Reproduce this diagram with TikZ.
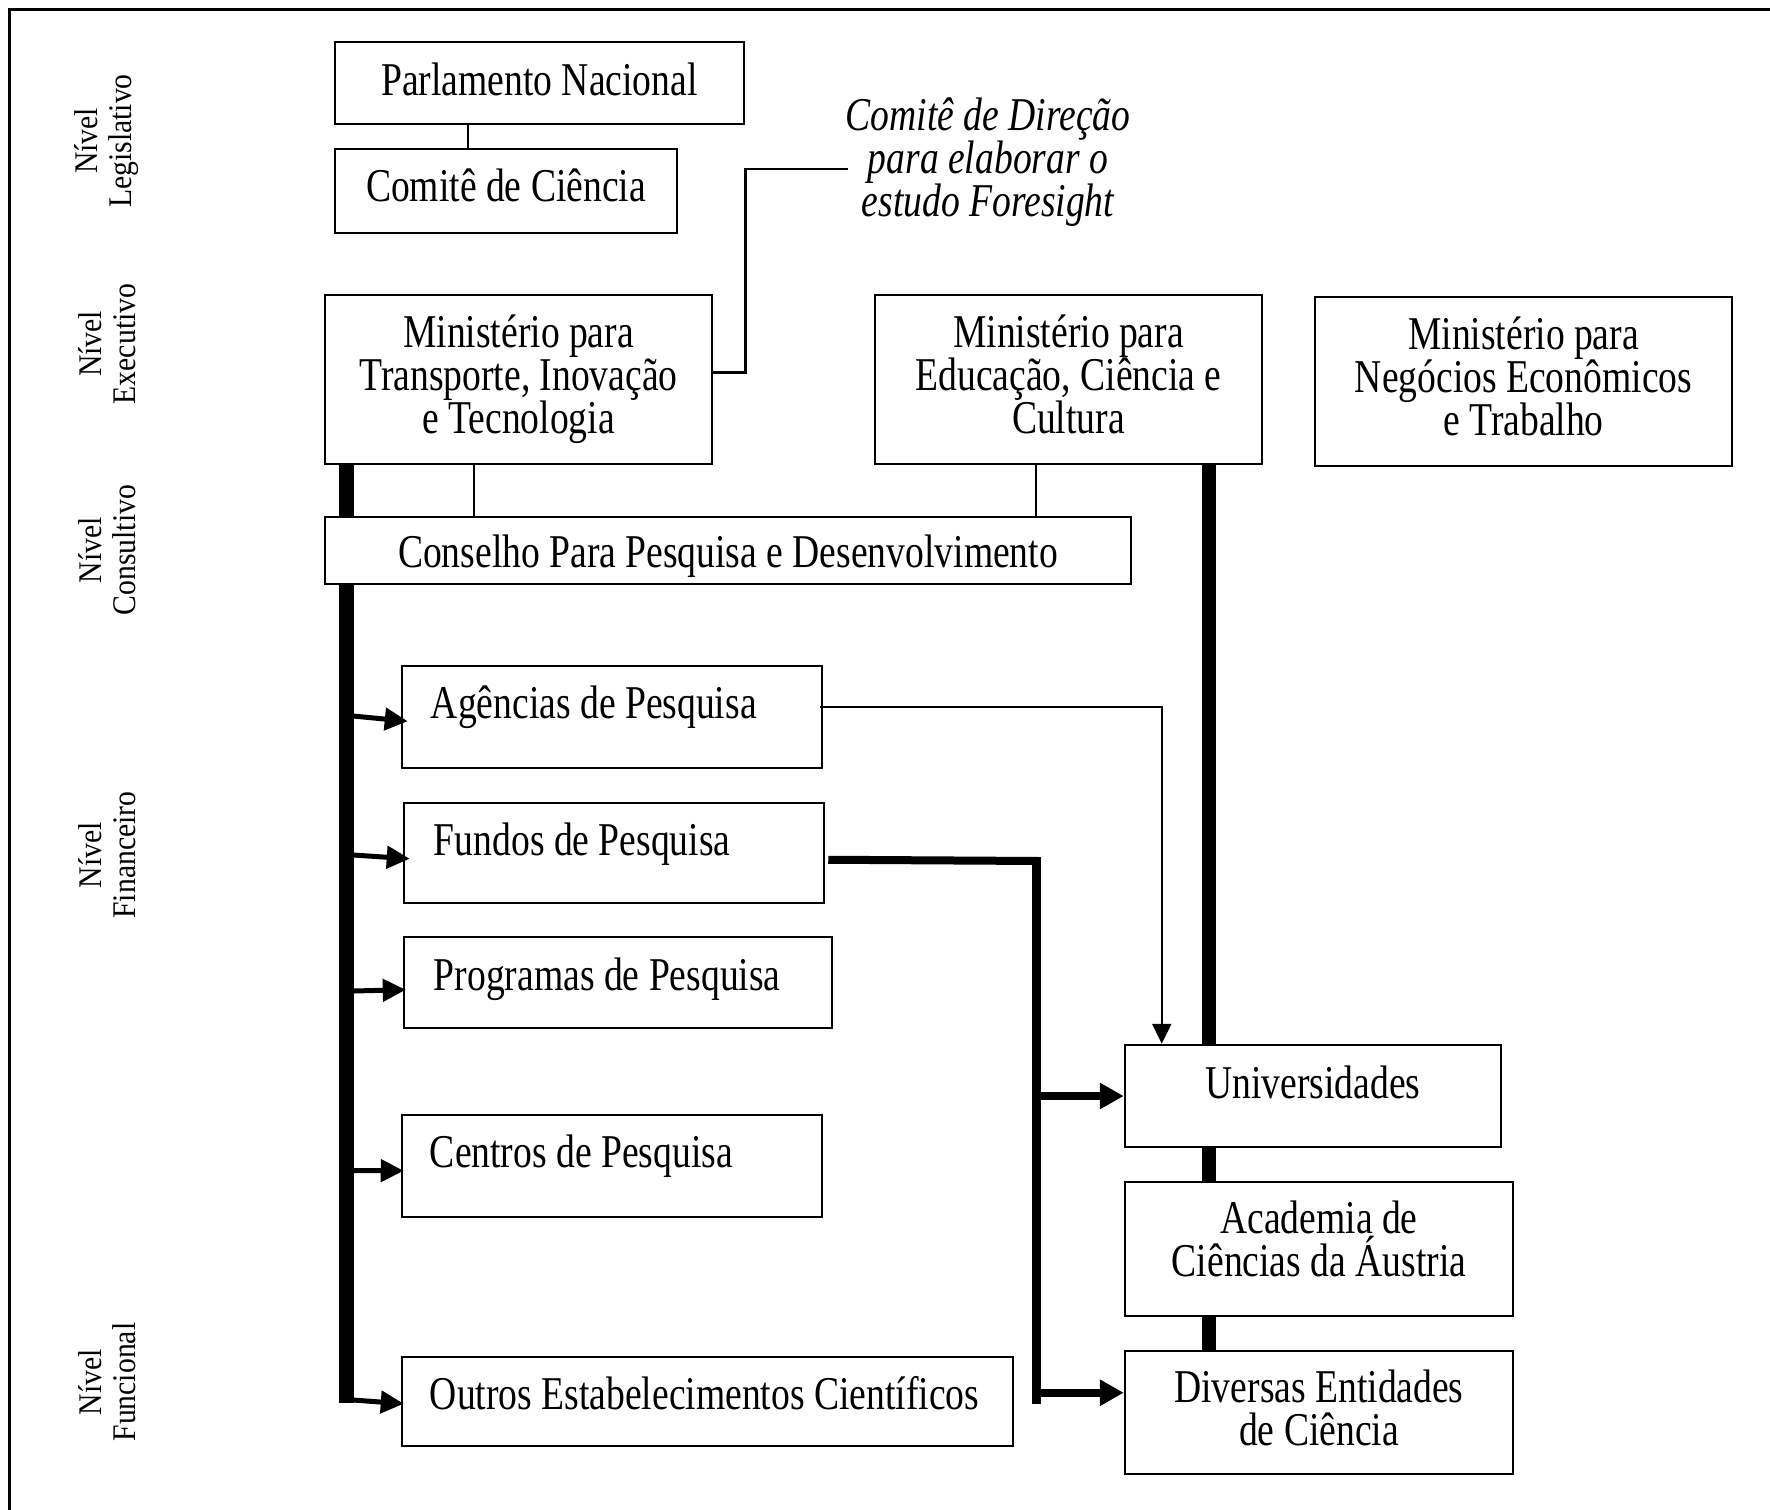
\documentclass[tikz,border=0pt]{standalone}
\usepackage{fontspec}
\setmainfont{Liberation Serif}[FakeStretch=0.8]
\newfontfamily\lvlfont{Liberation Serif}[FakeStretch=0.9]
\usetikzlibrary{arrows.meta,calc}
\newcommand\boxsize{\fontsize{47}{43}\selectfont}
\newcommand\lvlsize{\lvlfont\fontsize{33}{34}\selectfont}

\begin{document}
\begin{tikzpicture}[x=1pt,y=-1pt,
  box/.style={draw, line width=2.5pt, fill=white, inner sep=0pt},
  boxtext/.style={anchor=base west, inner sep=0pt, font=\boxsize},
  ctext/.style={anchor=base, align=center, inner sep=0pt, font=\boxsize},
  lvl/.style={rotate=90, align=center, inner sep=0pt, font=\lvlsize},
  thinline/.style={line width=2pt},
  medline/.style={line width=2.5pt},
  bar/.style={line width=15pt},
  larrow/.style={line width=5pt, -{Triangle[length=23pt,width=22pt]}},
  tarrow/.style={line width=2.5pt, -{Triangle[length=20pt,width=19pt]}},
  farrow/.style={line width=8pt, -{Triangle[length=24pt,width=25pt]}}
]
\useasboundingbox (0,0) rectangle (1770,1510);

% outer frame (top and left edges)
\draw[line width=3pt] (9,1510) -- (9,9) -- (1770,9);

% level labels
\node[lvl] (lleg) at (107,141) {Nível\\Legislativo};
\node[lvl] (lexe) at (107,344) {Nível\\Executivo};
\node[lvl] (lcon) at (107,550) {Nível\\Consultivo};
\node[lvl] (lfin) at (107,855) {Nível\\Financeiro};
\node[lvl] (lfun) at (107,1382) {Nível\\Funcional};

% legislative level
\node[box, minimum width=409pt, minimum height=82pt] (parl) at (539.5,83) {};
\node[ctext] (parlT) at ($(parl.north)+(0,54.5)$) {Parlamento Nacional};
\node[box, minimum width=342pt, minimum height=84pt] (csci) at (506,191) {};
\node[ctext] (csciT) at ($(csci.north)+(0,53.5)$) {Comitê de Ciência};

% steering committee
\node[align=center, inner sep=0pt, font=\boxsize\itshape] (cdir) at (988,162.5)
  {Comitê de Direção\\para elaborar o\\estudo Foresight};

% executive level
\node[box, minimum width=387pt, minimum height=169pt] (mtrans) at (518.5,379.5) {};
\node[ctext] (mtransT) at ($(mtrans.north)+(0,139.5)$)
  {Ministério para\\Transporte, Inovação\\e Tecnologia};
\node[box, minimum width=387pt, minimum height=169pt] (meduc) at (1068.5,379.5) {};
\node[ctext] (meducT) at ($(meduc.north)+(0,139.5)$)
  {Ministério para\\Educação, Ciência e\\Cultura};
\node[box, minimum width=417pt, minimum height=169pt] (mneg) at (1523.5,381.5) {};
\node[ctext] (mnegT) at ($(mneg.north)+(0,139.5)$)
  {Ministério para\\Negócios Econômicos\\e Trabalho};

% advisory level
\node[box, minimum width=806pt, minimum height=67pt] (cons) at (728,550.5) {};
\node[ctext] (consT) at ($(cons.north)+(0,51.5)$) {Conselho Para Pesquisa e Desenvolvimento};

% financing / functional level (left column)
\node[box, minimum width=420pt, minimum height=102pt] (agen) at (612,717) {};
\node[boxtext] (agenT) at ($(agen.north west)+(30,53.5)$) {Agências de Pesquisa};
\node[box, minimum width=420pt, minimum height=100pt] (fund) at (614,853) {};
\node[boxtext] (fundT) at ($(fund.north west)+(31,53.5)$) {Fundos de Pesquisa};
\node[box, minimum width=428pt, minimum height=91pt] (prog) at (618,982.5) {};
\node[boxtext] (progT) at ($(prog.north west)+(31,54.5)$) {Programas de Pesquisa};
\node[box, minimum width=420pt, minimum height=102pt] (cent) at (612,1166) {};
\node[boxtext] (centT) at ($(cent.north west)+(29,54)$) {Centros de Pesquisa};
\node[box, minimum width=611pt, minimum height=89pt] (outr) at (707.5,1401.5) {};
\node[boxtext] (outrT) at ($(outr.north west)+(29,53.5)$) {Outros Estabelecimentos Científicos};

% right column
\node[box, minimum width=376pt, minimum height=102pt] (univ) at (1313,1096) {};
\node[ctext] (univT) at ($(univ.north)+(0,54.5)$) {Universidades};
\node[box, minimum width=388pt, minimum height=134pt] (acad) at (1319,1249) {};
\node[ctext] (acadT) at ($(acad.north)+(0,95.5)$) {Academia de\\Ciências da Áustria};
\node[box, minimum width=388pt, minimum height=123pt] (divr) at (1319,1412.5) {};
\node[ctext] (divrT) at ($(divr.north)+(0,95.5)$) {Diversas Entidades\\de Ciência};

% thin hierarchy lines
\coordinate (c1) at (468,0);
\coordinate (c2) at (474,0);
\coordinate (c3) at (1036,0);
\draw[thinline] (parl.south -| c1) -- (csci.north -| c1);
\draw[thinline] (mtrans.south -| c2) -- (cons.north -| c2);
\draw[thinline] (meduc.south -| c3) -- (cons.north -| c3);
\draw[medline] ($(mtrans.east)+(0,-7)$) -- ++(32,0) |- ($(cdir.west)+(3,6.5)$);

% thick left bar with arrows
\coordinate (lb) at (346.5,0);
\coordinate (lbend) at (346.5,1403);
\draw[bar] (mtrans.south -| lb) -- (cons.north -| lb);
\draw[bar] (cons.south -| lb) -- (lbend);
\coordinate (b1) at (353,716);
\coordinate (b2) at (353,855);
\coordinate (b3) at (353,991);
\coordinate (b4) at (353,1170.5);
\coordinate (b5) at (353,1400);
\draw[larrow] (b1) -- ($(agen.north west)+(7,56.5)$);
\draw[larrow] (b2) -- ($(fund.north west)+(7,57)$);
\draw[larrow] (b3) -- ($(prog.north west)+(3,54)$);
\draw[larrow] (b4) -- ($(cent.north west)+(3,57)$);
\draw[larrow] (b5) -- ($(outr.north west)+(3,48)$);

% thick right bar
\coordinate (rb) at (1209,0);
\draw[line width=14pt] (meduc.south -| rb) -- (univ.north -| rb);
\draw[line width=14pt] (univ.south -| rb) -- (acad.north -| rb);
\draw[line width=14pt] (acad.south -| rb) -- (divr.north -| rb);

% research agencies to universities
\coordinate (av) at ($(univ.north west)+(38,0)$);
\draw[tarrow] ($(agen.north east)+(-3,42)$) -| (av);

% research funds to universities and science entities
\coordinate (fv) at (1036,861);
\coordinate (fvend) at (1036,1399);
\draw[line width=8pt] ($(fund.north east)+(3,58)$) -- ($(fv)+(4.5,0)$);
\draw[line width=9pt, line cap=rect] (fv) -- (fvend);
\coordinate (dv) at ($(divr.north west)+(0,43)$);
\draw[farrow] (univ.west -| fv) -- (univ.west);
\draw[farrow] (dv -| fv) -- (dv);

\end{tikzpicture}
\end{document}
